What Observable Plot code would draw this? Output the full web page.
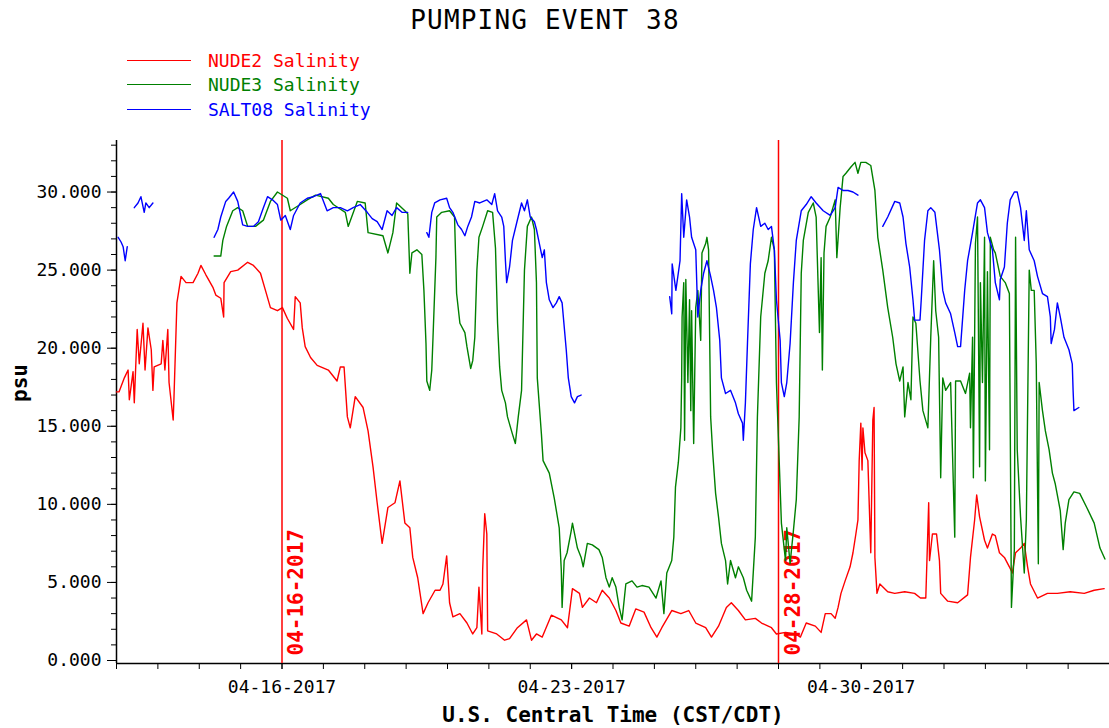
<!DOCTYPE html>
<html><head><meta charset="utf-8">
<script src="https://cdn.jsdelivr.net/npm/d3@7"></script>
<script src="https://cdn.jsdelivr.net/npm/@observablehq/plot@0.6"></script>
<style>
body{margin:0;background:#fff;font-family:"DejaVu Sans Mono",monospace;}
#wrap{position:relative;width:1109px;}
#head{position:relative;height:125px;}
#title{position:absolute;left:0;top:5px;width:1090px;text-align:center;font-size:26px;letter-spacing:1.2px;color:#000;line-height:30px;}
.leg{position:absolute;left:127px;height:22px;font-size:18px;display:flex;align-items:center;white-space:nowrap;}
.leg .sw{display:inline-block;width:64px;height:0;border-top:1.5px solid;margin-right:17px;}
</style></head><body>
<div id="wrap"><div id="head"><div id="title"></div></div><div id="chart"></div></div>
<script>
const chartTitle = "PUMPING EVENT 38";
const seriesNames = ["NUDE2 Salinity", "NUDE3 Salinity", "SALT08 Salinity"];
const seriesColors = ["#ff0000", "#008000", "#0000ff"];
const startDate = Date.UTC(2017, 3, 12);
const endDate = Date.UTC(2017, 4, 6);
const eventDates = [Date.UTC(2017, 3, 16), Date.UTC(2017, 3, 28)];
const majorTickDates = [Date.UTC(2017, 3, 16), Date.UTC(2017, 3, 23), Date.UTC(2017, 3, 30)];
const yMajorTicks = [0, 5, 10, 15, 20, 25, 30];
const xLabel = "U.S. Central Time (CST/CDT)";
const yLabel = "psu";

// [days since 04-12-2017 00:00, psu]
const nude2 = [[0.00,17.2],[0.06,17.2],[0.19,18.1],[0.28,18.6],[0.31,16.7],[0.40,18.5],[0.43,16.5],[0.50,21.2],[0.55,19.0],[0.64,21.6],[0.69,18.6],[0.76,21.3],[0.84,19.9],[0.88,17.3],[0.91,18.8],[1.08,19.0],[1.12,20.5],[1.17,18.6],[1.24,21.2],[1.27,17.8],[1.37,15.4],[1.39,16.9],[1.46,22.9],[1.56,24.6],[1.68,24.2],[1.85,24.2],[1.97,24.8],[2.04,25.3],[2.16,24.7],[2.33,23.9],[2.40,23.4],[2.52,23.2],[2.59,22.0],[2.60,24.2],[2.76,24.9],[2.93,25.0],[3.17,25.5],[3.31,25.3],[3.48,24.8],[3.60,23.7],[3.72,22.6],[3.89,22.4],[4.01,22.6],[4.13,21.9],[4.28,21.2],[4.32,23.3],[4.44,22.9],[4.49,21.3],[4.56,20.1],[4.69,19.4],[4.85,18.9],[5.12,18.6],[5.33,17.9],[5.41,18.8],[5.50,18.8],[5.58,15.6],[5.65,14.9],[5.77,16.9],[5.96,16.2],[6.08,14.7],[6.20,12.4],[6.30,10.1],[6.42,7.5],[6.56,9.8],[6.73,10.1],[6.85,11.5],[6.97,8.8],[7.09,8.5],[7.16,6.6],[7.28,5.3],[7.41,3.0],[7.53,3.7],[7.70,4.5],[7.82,4.5],[7.89,4.9],[7.98,6.7],[8.05,3.7],[8.13,2.8],[8.30,3.0],[8.47,2.4],[8.61,1.7],[8.71,2.1],[8.76,4.7],[8.83,1.7],[8.85,5.8],[8.90,9.4],[8.95,8.1],[8.97,1.9],[9.19,1.7],[9.38,1.3],[9.50,1.4],[9.69,2.1],[9.91,2.6],[10.03,1.3],[10.15,1.7],[10.29,1.5],[10.51,2.9],[10.75,2.6],[10.90,2.1],[11.02,4.6],[11.19,4.3],[11.26,3.4],[11.43,4.0],[11.60,3.7],[11.74,4.5],[11.91,4.0],[12.07,3.2],[12.19,2.4],[12.39,2.2],[12.55,3.3],[12.75,3.1],[12.92,2.1],[13.06,1.5],[13.18,2.1],[13.42,3.2],[13.64,3.0],[13.83,3.2],[14.00,2.4],[14.24,2.1],[14.38,1.5],[14.55,2.2],[14.74,3.4],[14.86,3.7],[15.03,3.2],[15.20,2.6],[15.44,2.7],[15.59,2.4],[15.83,2.1],[15.95,1.7],[16.17,1.8],[16.41,1.7],[16.53,1.5],[16.67,2.4],[16.89,2.2],[17.03,1.8],[17.13,3.0],[17.27,3.0],[17.37,2.7],[17.44,3.4],[17.51,4.3],[17.61,5.1],[17.73,6.0],[17.80,6.9],[17.87,8.1],[17.92,9.0],[17.95,12.8],[17.99,15.2],[18.02,12.2],[18.04,14.9],[18.09,13.3],[18.16,12.8],[18.23,6.9],[18.28,15.4],[18.31,16.2],[18.33,6.6],[18.38,4.3],[18.45,4.9],[18.64,4.4],[18.81,4.3],[19.05,4.4],[19.29,4.3],[19.43,4.0],[19.56,4.0],[19.63,10.1],[19.65,6.4],[19.72,8.1],[19.82,8.1],[19.89,6.4],[19.92,4.3],[20.09,3.8],[20.33,3.7],[20.57,4.2],[20.64,6.6],[20.74,9.0],[20.79,10.6],[20.86,9.2],[20.98,7.7],[21.05,7.2],[21.17,8.1],[21.24,8.0],[21.34,6.9],[21.46,6.6],[21.58,6.0],[21.65,5.6],[21.73,6.9],[21.85,7.2],[21.94,7.5],[22.02,6.0],[22.09,4.9],[22.26,4.0],[22.50,4.3],[22.74,4.3],[23.05,4.4],[23.39,4.3],[23.63,4.5],[23.87,4.6]];

const nude3 = [[2.36,25.9],[2.52,25.9],[2.57,26.9],[2.66,27.8],[2.81,28.8],[2.93,29.0],[3.05,28.8],[3.17,27.8],[3.36,27.8],[3.55,28.2],[3.72,29.4],[3.89,30.0],[4.13,29.6],[4.20,28.8],[4.44,29.2],[4.61,29.5],[4.81,29.8],[5.12,29.6],[5.24,29.2],[5.53,28.7],[5.60,27.8],[5.82,29.4],[6.01,29.3],[6.08,27.4],[6.44,27.2],[6.56,26.1],[6.68,27.4],[6.77,29.3],[6.97,28.8],[7.04,28.6],[7.09,24.8],[7.14,26.1],[7.26,26.3],[7.38,26.0],[7.43,23.7],[7.48,20.3],[7.50,17.9],[7.57,17.3],[7.62,18.6],[7.65,20.7],[7.72,25.8],[7.74,28.4],[7.86,28.7],[8.05,28.8],[8.17,28.4],[8.22,23.5],[8.30,21.6],[8.42,21.0],[8.47,20.1],[8.56,18.7],[8.61,19.2],[8.66,20.7],[8.71,25.0],[8.76,27.1],[8.85,27.8],[8.97,28.8],[9.09,28.7],[9.16,26.4],[9.21,21.6],[9.26,18.8],[9.31,17.3],[9.40,16.5],[9.45,15.6],[9.57,14.5],[9.64,13.9],[9.71,15.6],[9.79,17.3],[9.86,25.0],[9.93,27.8],[10.03,28.4],[10.10,27.6],[10.15,24.2],[10.17,18.1],[10.27,14.5],[10.31,12.8],[10.46,12.0],[10.58,10.4],[10.70,8.5],[10.75,5.8],[10.77,3.4],[10.82,6.4],[10.89,6.9],[10.99,8.3],[11.02,8.8],[11.14,7.2],[11.23,6.6],[11.28,6.0],[11.38,7.5],[11.50,7.4],[11.66,7.1],[11.74,6.6],[11.83,5.3],[11.91,4.7],[11.98,5.3],[12.07,4.7],[12.15,3.4],[12.22,2.6],[12.31,4.9],[12.46,5.1],[12.58,4.7],[12.70,4.8],[12.87,4.7],[13.04,4.0],[13.16,5.1],[13.23,3.0],[13.30,5.6],[13.42,6.4],[13.47,7.9],[13.51,11.1],[13.58,12.7],[13.64,14.9],[13.66,18.1],[13.67,22.0],[13.71,24.2],[13.73,14.1],[13.76,24.4],[13.81,17.8],[13.85,23.1],[13.88,16.0],[13.90,22.4],[13.95,13.9],[14.00,22.6],[14.05,23.7],[14.12,20.5],[14.15,26.1],[14.24,26.7],[14.27,27.1],[14.31,26.3],[14.36,15.6],[14.41,13.3],[14.48,10.7],[14.55,9.2],[14.62,7.5],[14.72,6.4],[14.77,4.9],[14.84,6.4],[14.96,5.3],[15.03,6.0],[15.15,5.3],[15.23,4.5],[15.35,3.8],[15.44,7.9],[15.49,15.6],[15.57,22.0],[15.67,24.8],[15.75,25.6],[15.83,27.1],[15.90,26.3],[15.95,17.8],[16.07,8.8],[16.17,6.4],[16.20,8.5],[16.28,6.2],[16.36,8.3],[16.43,10.3],[16.50,15.6],[16.55,24.8],[16.60,26.9],[16.72,28.7],[16.84,29.3],[16.91,28.4],[16.99,21.0],[17.03,25.8],[17.06,18.6],[17.10,26.1],[17.15,27.8],[17.25,28.4],[17.37,29.5],[17.41,25.8],[17.49,29.0],[17.56,31.0],[17.63,31.2],[17.75,31.6],[17.85,31.9],[17.92,31.2],[17.99,31.9],[18.11,31.9],[18.23,31.7],[18.33,30.1],[18.40,27.1],[18.52,25.0],[18.64,22.6],[18.76,20.7],[18.84,19.0],[18.93,17.9],[19.01,18.8],[19.05,15.6],[19.13,17.8],[19.20,16.7],[19.25,22.0],[19.32,21.6],[19.42,17.9],[19.49,16.0],[19.61,14.9],[19.68,20.7],[19.75,25.6],[19.80,22.4],[19.87,20.7],[19.92,11.7],[19.97,18.1],[20.04,17.3],[20.16,17.8],[20.26,7.9],[20.28,17.9],[20.40,17.9],[20.52,17.1],[20.62,18.4],[20.64,14.9],[20.69,20.7],[20.71,11.7],[20.76,26.7],[20.81,28.4],[20.86,12.4],[20.88,24.2],[20.93,17.8],[20.98,27.1],[21.00,11.5],[21.05,24.9],[21.10,13.5],[21.12,27.1],[21.20,26.3],[21.24,26.1],[21.36,24.6],[21.48,24.2],[21.58,23.5],[21.63,3.4],[21.70,7.1],[21.73,27.1],[21.77,13.5],[21.85,9.2],[21.94,5.6],[21.99,9.0],[22.06,25.0],[22.11,23.7],[22.18,23.7],[22.23,19.0],[22.28,6.2],[22.30,17.8],[22.38,16.0],[22.45,14.7],[22.54,13.5],[22.62,12.0],[22.69,11.3],[22.81,9.6],[22.88,7.1],[22.93,8.8],[23.02,10.3],[23.14,10.8],[23.28,10.7],[23.45,9.8],[23.63,8.8],[23.77,7.2],[23.89,6.5]];

// null marks a gap in the record
const salt08 = [[0.04,27.1],[0.11,26.8],[0.16,26.5],[0.21,25.6],[0.26,26.5],[0.30,null],
[0.43,29.0],[0.52,29.3],[0.59,29.7],[0.67,28.7],[0.71,29.3],[0.79,29.0],[0.88,29.3],[1.00,null],
[2.36,27.1],[2.45,27.6],[2.52,28.4],[2.64,29.4],[2.71,29.6],[2.83,30.0],[2.93,29.4],[3.05,27.9],[3.17,27.8],[3.31,27.8],[3.43,28.1],[3.55,29.0],[3.65,29.7],[3.77,29.5],[3.89,29.2],[3.97,28.2],[4.08,28.5],[4.20,27.6],[4.28,28.5],[4.44,29.3],[4.61,29.6],[4.76,29.7],[4.93,29.9],[5.09,28.8],[5.24,29.0],[5.41,29.0],[5.58,28.8],[5.72,29.0],[5.89,29.2],[6.06,28.7],[6.18,28.3],[6.30,28.1],[6.42,27.6],[6.54,28.8],[6.66,28.5],[6.77,29.0],[6.90,28.7],[7.04,28.7],[7.20,null],
[7.50,27.4],[7.55,27.1],[7.62,28.7],[7.69,29.3],[7.82,29.5],[7.98,29.6],[8.05,29.0],[8.13,28.7],[8.25,27.9],[8.34,27.6],[8.42,27.2],[8.49,27.8],[8.58,28.4],[8.66,29.4],[8.78,29.3],[8.95,29.5],[9.07,29.2],[9.14,29.9],[9.21,28.8],[9.31,28.4],[9.36,27.8],[9.40,25.6],[9.43,24.2],[9.50,25.2],[9.57,26.9],[9.67,28.0],[9.79,29.3],[9.86,28.8],[9.93,29.5],[10.00,28.4],[10.10,28.1],[10.15,27.6],[10.22,26.7],[10.29,25.8],[10.34,26.3],[10.39,24.2],[10.46,23.1],[10.55,22.6],[10.63,22.9],[10.70,23.3],[10.77,22.9],[10.87,19.9],[10.92,18.1],[10.99,16.9],[11.07,16.5],[11.14,16.9],[11.23,17.0],[12.00,null],
[13.37,23.3],[13.42,22.2],[13.43,25.4],[13.52,23.7],[13.62,25.6],[13.66,29.9],[13.71,27.1],[13.78,29.5],[13.85,28.4],[13.90,27.1],[14.00,26.3],[14.05,22.0],[14.12,23.7],[14.19,24.8],[14.27,25.6],[14.36,24.6],[14.43,23.7],[14.50,22.6],[14.58,20.5],[14.62,18.1],[14.72,17.1],[14.84,17.3],[14.96,16.5],[15.03,15.8],[15.13,15.2],[15.15,14.1],[15.20,16.5],[15.25,20.3],[15.32,25.4],[15.39,27.6],[15.47,29.0],[15.57,27.8],[15.67,28.0],[15.75,27.6],[15.83,27.8],[15.90,26.3],[15.95,23.1],[16.04,20.5],[16.07,17.8],[16.14,16.9],[16.20,17.8],[16.28,20.3],[16.36,24.2],[16.43,26.9],[16.55,28.8],[16.67,29.2],[16.79,29.7],[16.91,29.3],[17.08,28.8],[17.25,28.5],[17.37,29.0],[17.44,30.3],[17.56,30.1],[17.68,30.1],[17.80,30.0],[17.92,29.8],[18.20,null],
[18.52,27.8],[18.64,28.4],[18.81,29.4],[18.93,29.3],[19.01,28.4],[19.08,26.7],[19.17,25.2],[19.25,23.1],[19.29,21.8],[19.42,21.8],[19.45,23.1],[19.53,26.9],[19.61,28.8],[19.68,29.0],[19.78,28.7],[19.89,26.3],[19.97,23.7],[20.04,22.9],[20.16,22.2],[20.26,21.0],[20.33,20.1],[20.40,20.1],[20.50,23.7],[20.57,25.6],[20.69,27.4],[20.81,29.3],[20.88,29.5],[20.98,29.0],[21.05,27.4],[21.17,26.3],[21.24,24.2],[21.34,23.1],[21.36,24.4],[21.46,25.2],[21.53,28.0],[21.60,29.5],[21.70,30.0],[21.77,30.0],[21.85,29.0],[21.94,26.9],[21.99,28.8],[22.06,26.3],[22.18,25.6],[22.26,24.6],[22.38,23.5],[22.50,23.3],[22.57,22.0],[22.59,20.3],[22.67,21.2],[22.74,22.9],[22.81,22.0],[22.90,20.7],[23.02,19.9],[23.10,19.0],[23.12,17.3],[23.14,16.0],[23.26,16.2]];

const DAY = 864e5;
const toRows = (arr) => arr.map(([d, v]) => ({date: new Date(startDate + d * DAY), psu: v == null ? NaN : v}));
const allSeries = [nude2, nude3, salt08].map(toRows);

// header
document.getElementById("title").textContent = chartTitle;
const head = document.getElementById("head");
seriesNames.forEach((name, i) => {
  const row = document.createElement("div");
  row.className = "leg";
  row.style.top = (49 + i * 24.5) + "px";
  row.style.color = seriesColors[i];
  const sw = document.createElement("span");
  sw.className = "sw";
  sw.style.borderColor = seriesColors[i];
  row.appendChild(sw);
  row.appendChild(document.createTextNode(name));
  head.appendChild(row);
});

const fmtDate = d3.utcFormat("%m-%d-%Y");
const events = eventDates.map(t => new Date(t));
const chart = Plot.plot({
  width: 1109,
  height: 603,
  marginTop: 15,
  marginBottom: 65,
  marginLeft: 116,
  marginRight: 0,
  insetBottom: 3,
  style: {fontFamily: "'DejaVu Sans Mono', monospace", fontSize: "18px", color: "#000", background: "#fff", overflow: "visible"},
  x: {type: "utc", domain: [new Date(startDate), new Date(endDate)]},
  y: {domain: [0, 33.3]},
  marks: [
    Plot.axisY({ticks: d3.range(0, 34), tickSize: 5, tickFormat: () => "", label: null}),
    Plot.axisY({ticks: yMajorTicks, tickSize: 9, tickPadding: 6, tickFormat: d3.format(".3f"), label: null}),
    Plot.axisX({ticks: d3.utcDay.range(new Date(startDate), new Date(endDate + 1)), tickSize: 6, tickFormat: () => "", label: null}),
    Plot.axisX({ticks: majorTickDates.map(t => new Date(t)), tickSize: 6, tickPadding: 11, tickFormat: fmtDate, label: null}),
    Plot.ruleX([new Date(startDate)], {stroke: "#000", strokeWidth: 1.5}),
    Plot.ruleY([0], {stroke: "#000", strokeWidth: 1.5, dy: 3}),
    Plot.ruleX(events, {stroke: "#ff0000", strokeWidth: 1.5}),
    Plot.text(events, {x: d => d, text: d => fmtDate(d), rotate: -90, textAnchor: "start", frameAnchor: "bottom", dx: 21, dy: -8, fill: "#ff0000", fontWeight: "bold", fontSize: 21}),
    ...allSeries.map((rows, i) => Plot.line(rows, {x: "date", y: "psu", stroke: seriesColors[i], strokeWidth: 1.4})),
    Plot.text([xLabel], {frameAnchor: "bottom", dy: 58, fontWeight: "bold", fontSize: 21}),
    Plot.text([yLabel], {frameAnchor: "left", dx: -96, rotate: -90, fontWeight: "bold", fontSize: 21})
  ]
});
document.getElementById("chart").appendChild(chart);
</script>
</body></html>
